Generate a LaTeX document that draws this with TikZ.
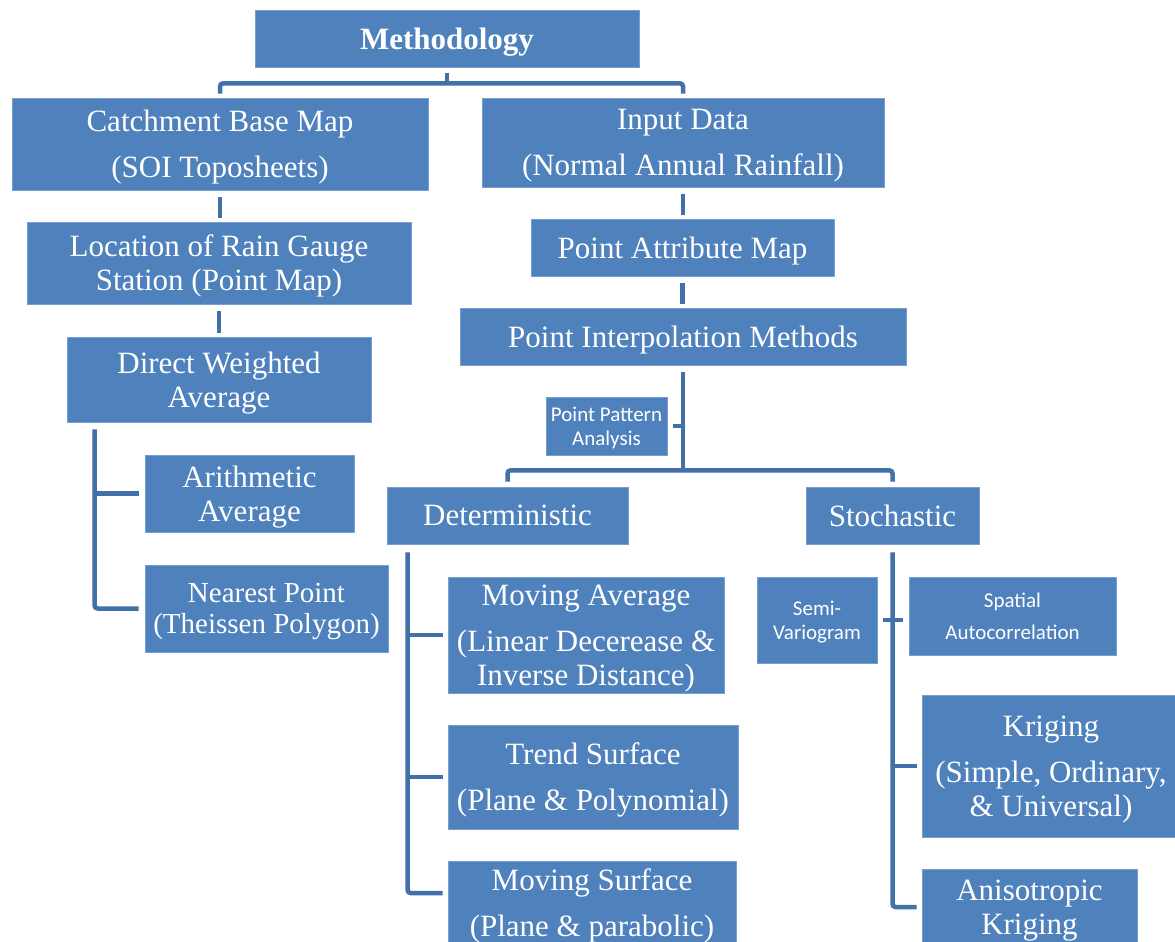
\documentclass[tikz,border=0pt]{standalone}
\usepackage{fontspec}
\usepackage{xcolor}
\usepackage{tikz}
\usetikzlibrary{positioning,calc}
\newfontfamily\boxfont{Liberation Serif}
\newfontfamily\notefont{Carlito}
\definecolor{boxblue}{RGB}{79,129,189}
\definecolor{boxedge}{RGB}{120,158,208}
\definecolor{linkblue}{RGB}{66,112,168}

\begin{document}
\begin{tikzpicture}[x=1pt, y=1pt]
    \tikzstyle{blk} = [rectangle, fill=boxblue, draw=boxedge, line width=0.8pt, text=white, align=center, inner sep=0pt, text depth=0pt, font=\boxfont\fontsize{31}{34}\selectfont]
    \tikzstyle{note} = [blk, font=\notefont\fontsize{21}{24}\selectfont]
    \tikzstyle{link} = [draw=linkblue, line width=4.5pt, rounded corners=3pt]
    \tikzstyle{stub} = [link, shorten <=7pt, shorten >=4pt]

    \clip (0,0) rectangle (1175,-942);
    \fill [white] (0,0) rectangle (1175,-942);

    % top level
    \node [blk, minimum width=384pt, minimum height=57pt] (meth) at (447,-38.5) {\bfseries Methodology};
    \node [blk, minimum width=416pt, minimum height=92pt] (catch) at (220,-144) {Catchment Base Map\\[12pt](SOI Toposheets)};
    \node [blk, minimum width=402pt, minimum height=89pt] (input) at (683,-142.5) {Input Data\\[12pt](Normal Annual Rainfall)};

    % left branch
    \node [blk, minimum width=384pt, minimum height=82pt] (loc) at (219,-263) {Location of Rain Gauge\\Station (Point Map)};
    \node [blk, minimum width=304pt, minimum height=85pt] (direct) at (219,-379.5) {Direct Weighted\\Average};
    \node [blk, minimum width=209pt, minimum height=77pt] (arith) at (249.5,-493.5) {Arithmetic\\Average};
    \node [blk, minimum width=243pt, minimum height=87pt, font=\boxfont\fontsize{29}{31}\selectfont] (near) at (266.5,-608.5) {Nearest Point\\(Theissen Polygon)};

    % right branch
    \node [blk, minimum width=303pt, minimum height=57pt] (attr) at (682.5,-247.5) {Point Attribute Map};
    \node [blk, minimum width=446pt, minimum height=57pt] (interp) at (683,-336.5) {Point Interpolation Methods};
    \node [note, minimum width=121pt, minimum height=58pt] (pattern) at (606.5,-426) {Point Pattern\\Analysis};
    \node [blk, minimum width=241pt, minimum height=57pt] (determ) at (507.5,-515.5) {Deterministic};
    \node [blk, minimum width=173pt, minimum height=57pt] (stoch) at (892.5,-515.5) {Stochastic};

    % deterministic methods
    \node [blk, minimum width=276pt, minimum height=116pt] (movavg) at (586,-635) {Moving Average\\[12pt](Linear Decerease \&\\Inverse Distance)};
    \node [blk, minimum width=290pt, minimum height=104pt] (trend) at (593,-777) {Trend Surface\\[12pt](Plane \& Polynomial)};
    \node [blk, minimum width=288pt, minimum height=84pt] (movsurf) at (592,-903) {Moving Surface\\[12pt](Plane \& parabolic)};

    % stochastic methods
    \node [note, minimum width=120pt, minimum height=86pt] (semi) at (817,-620) {Semi-\\Variogram};
    \node [note, minimum width=207pt, minimum height=78pt] (spatial) at (1012.5,-616) {Spatial\\[8pt]Autocorrelation};
    \node [blk, minimum width=258pt, minimum height=142pt] (krig) at (1051,-766) {Kriging\\[12pt](Simple, Ordinary,\\\& Universal)};
    \node [blk, minimum width=215pt, minimum height=76pt] (aniso) at (1029.5,-907) {Anisotropic\\Kriging};

    % connectors
    \draw [link] ([yshift=-6pt]meth.south) -- ($(meth.south)+(0,-16)$);
    \draw [link] ([yshift=4pt]catch.north) |- ($(meth.south)+(0,-16)$) -| ([yshift=4pt]input.north);

    \draw [stub] (catch.south) -- (catch.south |- loc.north);
    \draw [stub] (loc.south) -- (loc.south |- direct.north);
    \draw [stub] (input.south) -- (input.south |- attr.north);
    \draw [stub] (attr.south) -- (attr.south |- interp.north);

    \coordinate (dtop) at ([xshift=28pt, yshift=-7pt]direct.south west);
    \draw [link] (dtop) |- ([xshift=-6pt]near.west);
    \draw [link] ([xshift=-6pt]arith.west) -- (arith.west -| dtop);

    \draw [link] ([yshift=-7pt]interp.south) -- ($(interp.south)+(0,-105)$);
    \draw [link] ([yshift=5pt]determ.north) |- ($(interp.south)+(0,-105)$) -| ([yshift=5pt]stoch.north);
    \draw [link] ([xshift=6pt]pattern.east) -- (pattern.east -| interp.south);

    \coordinate (ttop) at ([xshift=21pt, yshift=-8pt]determ.south west);
    \draw [link] (ttop) |- ([xshift=-5pt, yshift=10pt]movsurf.west);
    \draw [link] ([xshift=-5pt]movavg.west) -- (movavg.west -| ttop);
    \draw [link] ([xshift=-5pt]trend.west) -- (trend.west -| ttop);

    \coordinate (stop) at ([yshift=-8pt]stoch.south);
    \draw [link] (stop) |- ([xshift=-5pt]aniso.west);
    \draw [link] ([xshift=-5pt]krig.west) -- (krig.west -| stop);
    \draw [link] ([xshift=6pt]semi.east) -- ([xshift=-6pt]spatial.west |- semi.east);
\end{tikzpicture}
\end{document}
